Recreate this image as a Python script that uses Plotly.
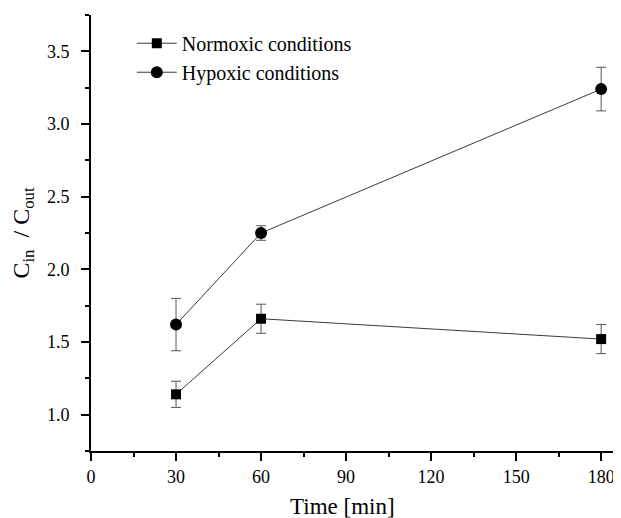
import plotly.graph_objects as go

time_min = [30, 60, 180]
normoxic = [1.14, 1.66, 1.52]
normoxic_err = [0.09, 0.10, 0.10]
hypoxic = [1.62, 2.25, 3.24]
hypoxic_err = [0.18, 0.05, 0.15]
x_ticks = [0, 30, 60, 90, 120, 150, 180]
y_ticks = [1.0, 1.5, 2.0, 2.5, 3.0, 3.5]

font_family = "Liberation Serif"
line_col = "#3a3a3a"
err_col = "#555555"

fig = go.Figure()
fig.add_trace(go.Scatter(
    x=time_min, y=normoxic, name="Normoxic conditions", mode="lines+markers",
    line=dict(color=line_col, width=1),
    marker=dict(symbol="square", size=10, color="black"),
    error_y=dict(type="data", array=normoxic_err, color=err_col, thickness=1, width=5),
))
fig.add_trace(go.Scatter(
    x=time_min, y=hypoxic, name="Hypoxic conditions", mode="lines+markers",
    line=dict(color=line_col, width=1),
    marker=dict(symbol="circle", size=12, color="black"),
    error_y=dict(type="data", array=hypoxic_err, color=err_col, thickness=1, width=5),
))

# the page body adds an 8px offset, so the figure is sized to fit the window
fig.update_layout(
    width=613, height=510,
    margin=dict(l=83, r=0, t=7, b=67),
    paper_bgcolor="white", plot_bgcolor="white",
    font=dict(family=font_family, size=18, color="black"),
    showlegend=True,
    legend=dict(x=0.077, y=0.98, xanchor="left", yanchor="top",
                bgcolor="rgba(0,0,0,0)", font=dict(size=20, family=font_family),
                tracegroupgap=0, itemwidth=40),
    annotations=[dict(text="Time [min]", xref="paper", yref="paper", x=0.475, y=-0.128,
                      xanchor="center", yanchor="middle", showarrow=False,
                      font=dict(size=23, family=font_family, color="black"))],
)
fig.update_xaxes(
    range=[0, 187], tickvals=x_ticks, ticktext=[str(v) for v in x_ticks],
    showline=True, linecolor="black", linewidth=2, mirror=False,
    ticks="outside", ticklen=8, tickwidth=2, tickcolor="black",
    minor=dict(ticks="outside", dtick=15, tick0=0, ticklen=4, tickwidth=2, tickcolor="black"),
    showgrid=False, zeroline=False, automargin=False,
    tickfont=dict(size=18, family=font_family),
)
fig.update_yaxes(
    range=[0.75, 3.75], tickvals=y_ticks, ticktext=[f"{v:.1f}" for v in y_ticks],
    showline=True, linecolor="black", linewidth=2, mirror=False,
    ticks="outside", ticklen=8, tickwidth=2, tickcolor="black",
    minor=dict(ticks="outside", dtick=0.25, tick0=0.75, ticklen=4, tickwidth=2, tickcolor="black"),
    showgrid=False, zeroline=False, automargin=False,
    tickfont=dict(size=18, family=font_family),
    ticklabelstandoff=8,
    title=dict(text="C<sub>in</sub>&nbsp; /&nbsp;C<sub>out</sub>",
               font=dict(size=24, family=font_family), standoff=15),
)

fig.write_html("out.html")
